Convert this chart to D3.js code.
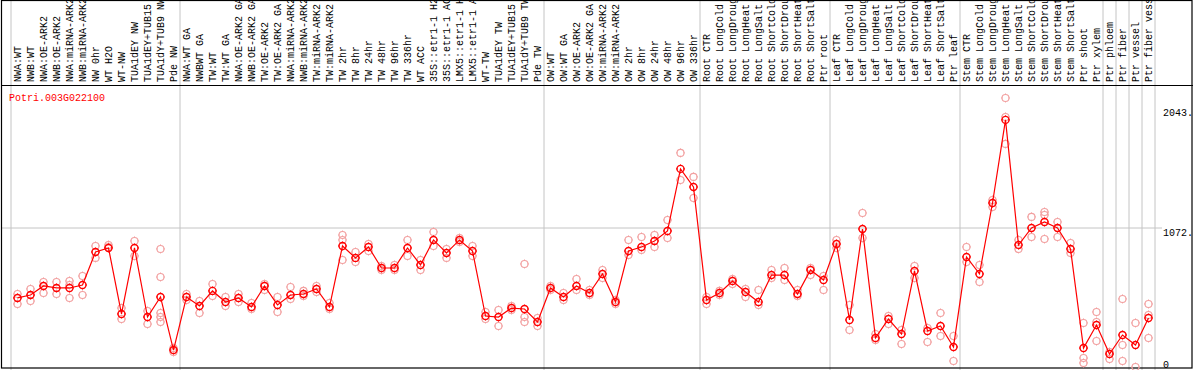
<!DOCTYPE html>
<html>
<head>
<meta charset="utf-8">
<script src="https://cdn.jsdelivr.net/npm/d3@7"></script>
<style>
    body { margin: 0; background: #fff; }
    text { font-family: "Liberation Mono", "DejaVu Sans Mono", monospace; font-size: 10px; }
</style>
</head>
<body>
<div id="chart"></div>
<script>
const width = 1194
const height = 370
const labelBottom = 85

const geneName = "Potri.003G022100"

const samples = [
    "NWA:WT", "NWB:WT", "NWA:OE-ARK2", "NWB:OE-ARK2", "NWA:miRNA-ARK2", "NWB:miRNA-ARK2",
    "NW 0hr", "WT H2O", "WT-NW", "TUA1dEY NW", "TUA1dEY+TUB15 NW", "TUA1dY+TUB9 NW", "Pde NW",
    "NWA:WT GA", "NWBWT GA", "TW:WT", "TW:WT GA", "NWA:OE-ARK2 GA", "NWB:OE-ARK2 GA",
    "TW:OE-ARK2", "TW:OE-ARK2 GA", "NWA:miRNA-ARK2 GA", "NWB:miRNA-ARK2 GA", "TW:miRNA-ARK2",
    "TW:miRNA-ARK2", "TW 2hr", "TW 8hr", "TW 24hr", "TW 48hr", "TW 96hr", "TW 336hr", "WT ACC",
    "35S::etr1-1 H2O", "35S::etr1-1 ACC", "LMX5::etr1-1 H2O", "LMX5::etr1-1 ACC", "WT-TW",
    "TUA1dEY TW", "TUA1dEY+TUB15 TW", "TUA1dY+TUB9 TW", "Pde TW",
    "OW:WT", "OW:WT GA", "OW:OE-ARK2", "OW:OE-ARK2 GA", "OW:miRNA-ARK2", "OW:miRNA-ARK2",
    "OW 2hr", "OW 8hr", "OW 24hr", "OW 48hr", "OW 96hr", "OW 336hr",
    "Root CTR", "Root LongCold", "Root LongDrought", "Root LongHeat", "Root LongSalt",
    "Root ShortCold", "Root ShortDrought", "Root ShortHeat", "Root ShortSalt", "Ptr root",
    "Leaf CTR", "Leaf LongCold", "Leaf LongDrought", "Leaf LongHeat", "Leaf LongSalt",
    "Leaf ShortCold", "Leaf ShortDrought", "Leaf ShortHeat", "Leaf ShortSalt", "Ptr leaf",
    "Stem CTR", "Stem LongCold", "Stem LongDrought", "Stem LongHeat", "Stem LongSalt",
    "Stem ShortCold", "Stem ShortDrought", "Stem ShortHeat", "Stem ShortSalt", "Ptr shoot",
    "Ptr xylem", "Ptr phloem", "Ptr fiber", "Ptr vessel", "Ptr fiber vessel"
]

// mean expression per sample
const means = [
    504, 528, 601, 585, 585, 609, 877, 910, 374, 910, 349, 512, 81,
    512, 439, 561, 471, 504, 431, 601, 447, 528, 536, 577, 431, 926, 829, 918, 747, 747,
    910, 772, 975, 869, 975, 885, 357, 349, 422, 414, 309,
    585, 512, 601, 544, 699, 471, 885, 918, 967, 1048, 1552, 1405,
    487, 544, 642, 552, 471, 690, 690, 536, 731, 650,
    942, 325, 1064, 179, 333, 211, 723, 236, 276, 106,
    837, 699, 1275, 1950, 934, 1072, 1121, 1072, 902, 97,
    284, 49, 203, 122, 341
]

// replicate values per sample
const replicates = [
    [536, 455], [577, 479], [634, 544], [634, 536], [642, 609, 504], [682, 528],
    [926, 829], [934, 918], [422, 333], [967, 845], [398, 292], [902, 674, 382, 349, 309], [97, 65],
    [536, 487], [479, 382], [617, 520], [512, 439], [536, 471], [463, 414], [617, 569], [512, 390],
    [593, 496], [561, 520], [601, 552], [463, 414], [1015, 975, 812], [877, 796], [942, 885],
    [764, 731], [772, 731], [975, 845], [812, 731], [1040, 926], [902, 829], [991, 959], [926, 845],
    [390, 333], [406, 276], [439, 406], [780, 349, 309], [341, 276],
    [601, 569], [544, 487], [658, 569], [569, 528], [731, 666], [487, 455], [975, 853], [999, 894],
    [1015, 918], [1137, 991], [1682, 1462], [1487, 1316],
    [512, 455], [561, 528], [658, 617], [577, 512], [569, 447], [731, 666], [747, 650], [569, 520],
    [747, 690], [682, 569],
    [975, 910], [447, 244], [1194, 991], [211, 162], [357, 292], [244, 130], [764, 666], [260, 146],
    [382, 195], [195, -8],
    [918, 796], [772, 634], [1300, 1243], [2128, 1974, 1755], [975, 902], [1162, 999],
    [1202, 1178, 983], [1121, 999], [950, 869], [301, 16, -24],
    [390, 309, 154], [65, 8], [496, 122, -8], [301, -57], [455, 366, 179]
]

// sample index where a new group starts
const groupStarts = [0, 13, 41, 53, 63, 73, 84, 85, 86, 87, 88]

const yTicks = [0, 1072, 2043]
const gridValues = [1072]

const red = "#ff0000"
const pink = "#f2a0a0"
const grey = "#c4c4c4"

const svg = d3.select("div#chart").append("svg").attr("width", width).attr("height", height)

const x = d3.scaleLinear().domain([0, samples.length]).range([11, 1155])
const xc = i => x(i + 0.5)
const y = d3.scaleLinear().domain([0, 1072]).range([360, 228])

svg.append("defs").append("clipPath").attr("id", "labelClip")
    .append("rect").attr("x", 0).attr("y", 1).attr("width", width).attr("height", labelBottom - 1)

// group separators
svg.append("g").selectAll("line").data(groupStarts).join("line")
    .attr("x1", d => x(d)).attr("x2", d => x(d))
    .attr("y1", 0).attr("y2", height)
    .attr("stroke", grey).attr("stroke-width", 1)

svg.append("g").selectAll("line").data(gridValues).join("line")
    .attr("x1", 2).attr("x2", 1162)
    .attr("y1", d => y(d)).attr("y2", d => y(d))
    .attr("stroke", grey).attr("stroke-width", 1)

// frame
svg.append("rect").attr("x", 1.5).attr("y", 0.5).attr("width", 1190.5).attr("height", 367.5)
    .attr("fill", "none").attr("stroke", "#000").attr("stroke-width", 1.2)
svg.append("line").attr("x1", 1).attr("x2", 1193).attr("y1", labelBottom + 0.5).attr("y2", labelBottom + 0.5)
    .attr("stroke", "#000").attr("stroke-width", 1.2)

// sample labels
svg.append("g").attr("clip-path", "url(#labelClip)")
    .selectAll("text").data(samples).join("text")
    .attr("transform", (d, i) => `translate(${xc(i) + 3.5}, ${labelBottom - 3}) rotate(-90)`)
    .attr("fill", "#000")
    .text(d => d)

svg.append("text").attr("x", 9).attr("y", 101).attr("fill", red).text(geneName)

// y labels
svg.append("g").selectAll("text").data(yTicks).join("text")
    .attr("x", 1163).attr("y", d => y(d) + 8)
    .attr("fill", "#000")
    .text(d => d === 0 ? "0" : d + ".")

function marker(g, cx, cy, color, sw) {
    const r = 3.5
    g.append("circle").attr("cx", cx).attr("cy", cy).attr("r", r)
        .attr("fill", "none").attr("stroke", color).attr("stroke-width", sw)
    const t = [[0, -1], [0, 1], [-1, 0], [1, 0]]
    t.forEach(([dx, dy]) => {
        g.append("line")
            .attr("x1", cx + dx * (r - 0.5)).attr("y1", cy + dy * (r - 0.5))
            .attr("x2", cx + dx * (r + 1)).attr("y2", cy + dy * (r + 1))
            .attr("stroke", color).attr("stroke-width", 1)
    })
}

const repGroup = svg.append("g")
replicates.forEach((reps, i) => {
    reps.forEach(v => marker(repGroup, xc(i), y(v), pink, 1.1))
})

svg.append("path").datum(means)
    .attr("fill", "none").attr("stroke", red).attr("stroke-width", 1.2)
    .attr("d", d3.line().x((d, i) => xc(i)).y(d => y(d)))

const meanGroup = svg.append("g")
means.forEach((v, i) => marker(meanGroup, xc(i), y(v), red, 1.4))
</script>
</body>
</html>
